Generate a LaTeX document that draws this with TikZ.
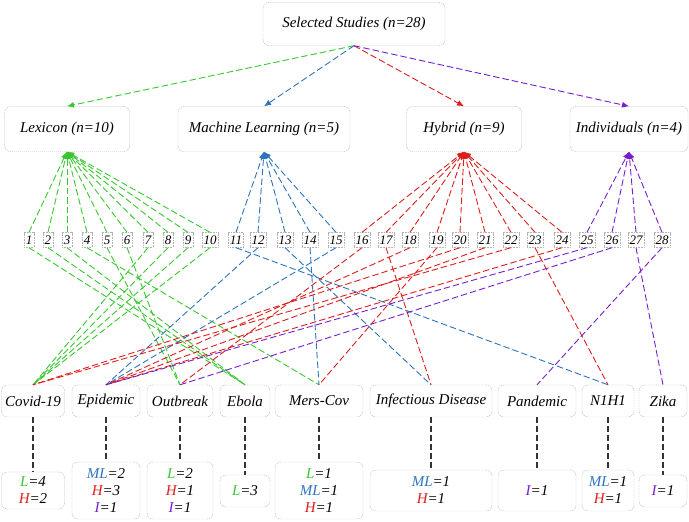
\documentclass[tikz,border=0pt]{standalone}
\usepackage{fontspec}
\setmainfont{Liberation Serif}
\usepackage{tikz}
\usetikzlibrary{arrows.meta}

\definecolor{lgreen}{RGB}{55,200,45}
\definecolor{lblue}{RGB}{45,115,190}
\definecolor{lred}{RGB}{220,30,30}
\definecolor{lpurple}{RGB}{120,30,205}

\begin{document}
\begin{tikzpicture}[x=1pt,y=-1pt,
    box/.style={draw=gray!60, dash pattern=on 1.2pt off 0.8pt, rounded corners=6pt, inner sep=0pt, align=center, font=\fontsize{15}{17}\selectfont\itshape},
    num/.style={draw=gray!60, dash pattern=on 1pt off 0.6pt, inner sep=1.5pt, minimum height=15pt, font=\fontsize{13}{13}\selectfont\itshape},
    link/.style={line width=0.9pt, dash pattern=on 6.5pt off 3pt},
    tip/.style={-{Latex[length=7pt,width=6pt]}},
    stem/.style={black!80, line width=1.3pt, dash pattern=on 6pt off 3pt}]
    \useasboundingbox (0,0) rectangle (689,522);

    % Nodes
    \node[box, minimum width=182, minimum height=43] (sel) at (354,24) {Selected Studies (n=28)};

    \node[box, minimum width=125, minimum height=45] (lex) at (67,129) {Lexicon (n=10)};
    \node[box, minimum width=172, minimum height=45] (ml) at (264,129) {Machine Learning (n=5)};
    \node[box, minimum width=115, minimum height=45] (hyb) at (464,129) {Hybrid (n=9)};
    \node[box, minimum width=118, minimum height=45] (ind) at (629,129) {Individuals (n=4)};

    \node[num] (s1) at (29,240) {1};
    \node[num] (s2) at (48,240) {2};
    \node[num] (s3) at (67,240) {3};
    \node[num] (s4) at (87,240) {4};
    \node[num] (s5) at (107,240) {5};
    \node[num] (s6) at (127,240) {6};
    \node[num] (s7) at (148,240) {7};
    \node[num] (s8) at (168,240) {8};
    \node[num] (s9) at (188,240) {9};
    \node[num] (s10) at (210,240) {10};
    \node[num] (s11) at (236,240) {11};
    \node[num] (s12) at (258,240) {12};
    \node[num] (s13) at (285,240) {13};
    \node[num] (s14) at (310,240) {14};
    \node[num] (s15) at (336,240) {15};
    \node[num] (s16) at (362,240) {16};
    \node[num] (s17) at (386,240) {17};
    \node[num] (s18) at (410,240) {18};
    \node[num] (s19) at (437,240) {19};
    \node[num] (s20) at (460,240) {20};
    \node[num] (s21) at (485,240) {21};
    \node[num] (s22) at (511,240) {22};
    \node[num] (s23) at (535,240) {23};
    \node[num] (s24) at (562,240) {24};
    \node[num] (s25) at (587,240) {25};
    \node[num] (s26) at (612,240) {26};
    \node[num] (s27) at (636,240) {27};
    \node[num] (s28) at (662,240) {28};

    \node[box, minimum width=63, minimum height=32] (covid) at (33,401) {Covid-19};
    \node[box, minimum width=68, minimum height=32] (epid) at (106,401) {Epidemic};
    \node[box, minimum width=66, minimum height=32] (outb) at (180,401) {Outbreak};
    \node[box, minimum width=50, minimum height=32] (ebola) at (245,401) {Ebola};
    \node[box, minimum width=88, minimum height=32] (mers) at (319,401) {Mers-Cov};
    \node[box, minimum width=122, minimum height=32] (infd) at (431,401) {Infectious Disease};
    \node[box, minimum width=78, minimum height=32] (pand) at (537,401) {Pandemic};
    \node[box, minimum width=52, minimum height=32] (nh) at (608,401) {N1H1};
    \node[box, minimum width=48, minimum height=32] (zika) at (663,401) {Zika};

    \node[box, minimum width=63, minimum height=37] (covidN) at (33,490.5) {{\color{lgreen}L}=4\\{\color{lred}H}=2};
    \node[box, minimum width=68, minimum height=57] (epidN) at (106,490.5) {{\color{lblue}ML}=2\\{\color{lred}H}=3\\{\color{lpurple}I}=1};
    \node[box, minimum width=66, minimum height=57] (outbN) at (180,490.5) {{\color{lgreen}L}=2\\{\color{lred}H}=1\\{\color{lpurple}I}=1};
    \node[box, minimum width=50, minimum height=32] (ebolaN) at (245,491) {{\color{lgreen}L}=3};
    \node[box, minimum width=88, minimum height=57] (mersN) at (319,490.5) {{\color{lgreen}L}=1\\{\color{lblue}ML}=1\\{\color{lred}H}=1};
    \node[box, minimum width=122, minimum height=41] (infdN) at (431,490.5) {{\color{lblue}ML}=1\\{\color{lred}H}=1};
    \node[box, minimum width=78, minimum height=41] (pandN) at (537,490.5) {{\color{lpurple}I}=1};
    \node[box, minimum width=52, minimum height=41] (nhN) at (608,490.5) {{\color{lblue}ML}=1\\{\color{lred}H}=1};
    \node[box, minimum width=48, minimum height=32] (zikaN) at (663,491) {{\color{lpurple}I}=1};

    % Edges: selected studies to approaches
    \draw[link, tip, lgreen] (sel.south) -- (lex.north);
    \draw[link, tip, lblue] (sel.south) -- (ml.north);
    \draw[link, tip, lred] (sel.south) -- (hyb.north);
    \draw[link, tip, lpurple] (sel.south) -- (ind.north);

    % Edges: studies to approaches
    \draw[link, tip, lgreen] (s1.north) -- (lex.south);
    \draw[link, tip, lgreen] (s2.north) -- (lex.south);
    \draw[link, tip, lgreen] (s3.north) -- (lex.south);
    \draw[link, tip, lgreen] (s4.north) -- (lex.south);
    \draw[link, tip, lgreen] (s5.north) -- (lex.south);
    \draw[link, tip, lgreen] (s6.north) -- (lex.south);
    \draw[link, tip, lgreen] (s7.north) -- (lex.south);
    \draw[link, tip, lgreen] (s8.north) -- (lex.south);
    \draw[link, tip, lgreen] (s9.north) -- (lex.south);
    \draw[link, tip, lgreen] (s10.north) -- (lex.south);
    \draw[link, tip, lblue] (s11.north) -- (ml.south);
    \draw[link, tip, lblue] (s12.north) -- (ml.south);
    \draw[link, tip, lblue] (s13.north) -- (ml.south);
    \draw[link, tip, lblue] (s14.north) -- (ml.south);
    \draw[link, tip, lblue] (s15.north) -- (ml.south);
    \draw[link, tip, lred] (s16.north) -- (hyb.south);
    \draw[link, tip, lred] (s17.north) -- (hyb.south);
    \draw[link, tip, lred] (s18.north) -- (hyb.south);
    \draw[link, tip, lred] (s19.north) -- (hyb.south);
    \draw[link, tip, lred] (s20.north) -- (hyb.south);
    \draw[link, tip, lred] (s21.north) -- (hyb.south);
    \draw[link, tip, lred] (s22.north) -- (hyb.south);
    \draw[link, tip, lred] (s23.north) -- (hyb.south);
    \draw[link, tip, lred] (s24.north) -- (hyb.south);
    \draw[link, tip, lpurple] (s25.north) -- (ind.south);
    \draw[link, tip, lpurple] (s26.north) -- (ind.south);
    \draw[link, tip, lpurple] (s27.north) -- (ind.south);
    \draw[link, tip, lpurple] (s28.north) -- (ind.south);

    % Edges: studies to topics
    \draw[link, lgreen] (s1.south) -- (ebola.north);
    \draw[link, lgreen] (s2.south) -- (ebola.north);
    \draw[link, lgreen] (s3.south) -- (ebola.north);
    \draw[link, lgreen] (s4.south) -- (mers.north);
    \draw[link, lgreen] (s5.south) -- (outb.north);
    \draw[link, lgreen] (s6.south) -- (outb.north);
    \draw[link, lgreen] (s7.south) -- (covid.north);
    \draw[link, lgreen] (s8.south) -- (covid.north);
    \draw[link, lgreen] (s9.south) -- (covid.north);
    \draw[link, lgreen] (s10.south) -- (covid.north);
    \draw[link, lblue] (s11.south) -- (nh.north);
    \draw[link, lblue] (s12.south) -- (epid.north);
    \draw[link, lblue] (s13.south) -- (infd.north);
    \draw[link, lblue] (s14.south) -- (mers.north);
    \draw[link, lblue] (s15.south) -- (epid.north);
    \draw[link, lred] (s16.south) -- (outb.north);
    \draw[link, lred] (s17.south) -- (infd.north);
    \draw[link, lred] (s18.south) -- (epid.north);
    \draw[link, lred] (s19.south) -- (mers.north);
    \draw[link, lred] (s20.south) -- (covid.north);
    \draw[link, lred] (s21.south) -- (epid.north);
    \draw[link, lred] (s22.south) -- (covid.north);
    \draw[link, lred] (s23.south) -- (nh.north);
    \draw[link, lred] (s24.south) -- (epid.north);
    \draw[link, lpurple] (s25.south) -- (epid.north);
    \draw[link, lpurple] (s26.south) -- (outb.north);
    \draw[link, lpurple] (s27.south) -- (zika.north);
    \draw[link, lpurple] (s28.south) -- (pand.north);

    % Edges: topics to counts
    \draw[stem] (covid.south) -- (covidN.north);
    \draw[stem] (epid.south) -- (epidN.north);
    \draw[stem] (outb.south) -- (outbN.north);
    \draw[stem] (ebola.south) -- (ebolaN.north);
    \draw[stem] (mers.south) -- (mersN.north);
    \draw[stem] (infd.south) -- (infdN.north);
    \draw[stem] (pand.south) -- (pandN.north);
    \draw[stem] (nh.south) -- (nhN.north);
    \draw[stem] (zika.south) -- (zikaN.north);
\end{tikzpicture}
\end{document}
